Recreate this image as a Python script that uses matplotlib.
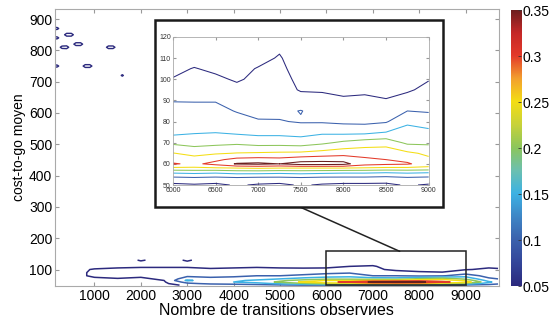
"""
Contours de densité : cost-to-go moyen vs nombre de transitions observées,
avec un zoom sur la zone 6000-9000 / 50-120.
"""

import numpy as np
import matplotlib
matplotlib.use("Agg")
import matplotlib.pyplot as plt
from matplotlib.colors import LinearSegmentedColormap, Normalize
from matplotlib.patches import Rectangle, ConnectionPatch

plt.rcParams["font.family"] = ["Liberation Sans", "DejaVu Sans"]

LEVELS = [0.05, 0.10, 0.15, 0.20, 0.25, 0.30, 0.35]
CBAR_TICKS = [0.05, 0.10, 0.15, 0.20, 0.25, 0.30, 0.35]
CBAR_LABELS = ["0.05", "0.1", "0.15", "0.2", "0.25", "0.3", "0.35"]

# --- main band (densité), one list per x column ---
main_x = [150, 500, 1000, 1500, 2000, 2500, 3000, 3500, 4000, 4500, 5000,
          5500, 6000, 6500, 7000, 7500, 8000, 8500, 9000, 9500, 9700]
main_y = [50, 55, 60, 65, 70, 80, 90, 100, 110, 120, 130]
main_density = [
    [.02, .02, .02, .02, .02, .02, .02, .02, .02, .02, .02],
    [.02, .02, .02, .02, .03, .03, .03, .03, .02, .02, .02],
    [.02, .02, .03, .035, .04, .06, .06, .055, .03, .02, .02],
    [.02, .03, .03, .04, .045, .075, .065, .06, .04, .02, .02],
    [.02, .03, .035, .04, .045, .055, .07, .06, .045, .035, .055],
    [.03, .04, .045, .05, .055, .065, .07, .06, .045, .03, .03],
    [.06, .09, .12, .16, .13, .09, .075, .06, .045, .04, .055],
    [.07, .11, .13, .12, .11, .09, .07, .055, .04, .03, .03],
    [.07, .12, .15, .14, .12, .09, .07, .06, .04, .03, .02],
    [.08, .13, .17, .16, .13, .10, .075, .06, .045, .03, .02],
    [.09, .16, .21, .19, .15, .10, .075, .06, .04, .03, .02],
    [.10, .19, .26, .22, .17, .11, .08, .058, .04, .03, .02],
    [.10, .22, .29, .25, .19, .12, .09, .055, .045, .03, .02],
    [.10, .22, .31, .245, .19, .13, .095, .058, .05, .03, .02],
    [.10, .24, .36, .255, .18, .10, .08, .06, .053, .04, .03],
    [.10, .24, .37, .26, .175, .10, .07, .04, .035, .03, .02],
    [.10, .24, .365, .28, .21, .09, .055, .04, .035, .03, .02],
    [.10, .22, .31, .28, .23, .095, .052, .04, .035, .03, .02],
    [.09, .18, .28, .24, .19, .13, .075, .048, .04, .03, .02],
    [.08, .13, .16, .13, .11, .08, .06, .055, .045, .03, .02],
    [.07, .11, .13, .12, .10, .07, .06, .055, .04, .03, .02],
]

# --- isolated points in the upper-left corner ---
top_x = list(range(0, 2100, 100))
top_y = list(range(690, 910, 10))
blob_x = [100, 200, 400, 500, 100, 200, 300, 400, 600, 700, 1300, 1400,
          100, 200, 800, 900, 1600]
blob_y = [870, 870, 850, 850, 840, 840, 810, 810, 820, 820, 810, 810,
          750, 750, 750, 750, 720]
blob_v = [.09, .07, .09, .09, .09, .07, .08, .09, .09, .09, .085, .085,
          .09, .07, .09, .09, .065]

# --- zoomed window 6000-9000 ---
inset_x = [6000, 6250, 6500, 6750, 7000, 7250, 7500, 7750, 8000, 8250,
           8500, 8750, 9000]
inset_y = [50, 53, 56, 58, 60, 62, 65, 70, 75, 80, 85, 90, 95, 100, 105,
           110, 115, 120]
inset_density = [
    [.04, .08, .16, .24, .305, .28, .252, .19, .134, .125, .113, .098, .075, .052, .04, .035, .03, .03],
    [.045, .085, .165, .24, .29, .27, .235, .18, .145, .128, .115, .097, .07, .055, .052, .035, .03, .03],
    [.04, .08, .16, .245, .315, .29, .245, .185, .148, .13, .115, .097, .075, .058, .042, .035, .03, .03],
    [.055, .085, .17, .25, .355, .315, .252, .19, .14, .12, .097, .08, .062, .045, .04, .035, .03, .03],
    [.045, .08, .17, .255, .36, .32, .255, .18, .135, .103, .09, .08, .07, .06, .052, .04, .035, .03],
    [.04, .08, .165, .25, .35, .315, .258, .18, .135, .103, .088, .078, .07, .064, .058, .053, .045, .035],
    [.055, .085, .17, .25, .37, .33, .26, .175, .13, .096, .102, .07, .046, .04, .035, .03, .03, .03],
    [.045, .08, .165, .25, .37, .335, .27, .19, .14, .095, .08, .065, .045, .04, .035, .03, .03, .03],
    [.04, .08, .16, .25, .365, .335, .28, .21, .135, .09, .075, .055, .042, .04, .035, .03, .03, .03],
    [.04, .08, .16, .245, .32, .31, .28, .225, .135, .088, .075, .058, .043, .04, .035, .03, .03, .03],
    [.04, .075, .155, .24, .31, .30, .28, .23, .15, .095, .075, .052, .04, .038, .035, .03, .03, .03],
    [.055, .085, .16, .24, .305, .29, .26, .19, .17, .14, .10, .065, .045, .04, .035, .03, .03, .03],
    [.045, .08, .155, .235, .28, .26, .24, .19, .16, .13, .095, .075, .06, .048, .04, .035, .03, .03],
]

cmap = LinearSegmentedColormap.from_list("jetish", [
    "#2c2a7e", "#34469a", "#3b62ad", "#3f86c6", "#3cb2e4", "#6cc0b0",
    "#8cc65c", "#c8d23a", "#f4de14", "#f3a02e", "#e43a2a", "#c42828", "#6a1e1e",
])
norm = Normalize(0.05, 0.35)

fig = plt.figure(figsize=(5.56, 3.24), dpi=100)
ax = fig.add_axes([0.099, 0.117, 0.798, 0.855])

# main band
Z = np.array(main_density).T
ax.contour(main_x, main_y, Z, levels=LEVELS, cmap=cmap, norm=norm, linewidths=1.1)

# isolated blobs
Zt = np.zeros((len(top_y), len(top_x)))
for bx, by, bv in zip(blob_x, blob_y, blob_v):
    Zt[top_y.index(by), top_x.index(bx)] = bv
ax.contour(top_x, top_y, Zt, levels=LEVELS, cmap=cmap, norm=norm, linewidths=1.0)

ax.set_xlim(150, 9715)
ax.set_ylim(47, 932)
ax.set_xticks(range(1000, 10000, 1000))
ax.set_yticks(range(100, 1000, 100))
ax.tick_params(direction="in", length=3, top=True, right=True,
               color="#999999", labelsize=10, pad=2)
for s in ax.spines.values():
    s.set_color("#aaaaaa")
    s.set_linewidth(0.8)
ax.set_xlabel("Nombre de transitions observиes", fontsize=11.5, labelpad=0)
ax.set_ylabel("cost-to-go moyen", fontsize=10, labelpad=2)

# zoom rectangle in the main axes
ax.add_patch(Rectangle((6000, 50), 3000, 108, fill=False, ec="#222222",
                       lw=1.1, clip_on=False, zorder=5))

# colorbar, drawn as a plain axes so the tick labels stay as written
cax = fig.add_axes([0.919, 0.117, 0.018, 0.852])
ramp = np.linspace(norm.vmin, norm.vmax, 256).reshape(-1, 1)
cax.imshow(ramp, cmap=cmap, norm=norm, aspect="auto", origin="lower",
           extent=(0, 1, norm.vmin, norm.vmax))
cax.set_xticks([])
cax.yaxis.tick_right()
cax.set_yticks(CBAR_TICKS, labels=CBAR_LABELS)
cax.tick_params(axis="y", direction="in", length=2, width=0.6,
                color="#333333", labelsize=10, pad=1)
for s in cax.spines.values():
    s.set_visible(False)

# inset frame and inset axes
frame = Rectangle((0.279, 0.361), 0.518, 0.577, transform=fig.transFigure,
                  fill=True, fc="white", ec="#1a1a1a", lw=1.8, zorder=3)
fig.add_artist(frame)

axi = fig.add_axes([0.311, 0.429, 0.460, 0.457], zorder=4)
Zi = np.array(inset_density).T
axi.contour(inset_x, inset_y, Zi, levels=LEVELS, cmap=cmap, norm=norm, linewidths=0.75)
axi.set_xlim(6000, 9000)
axi.set_ylim(50, 120)
axi.set_xticks(range(6000, 9001, 500))
axi.set_yticks(range(50, 121, 10))
axi.tick_params(direction="in", length=2, top=True, right=True,
                color="#999999", labelsize=5, labelcolor="#333333", pad=1.5)
for s in axi.spines.values():
    s.set_color("#aaaaaa")
    s.set_linewidth(0.6)

con = ConnectionPatch(xyA=(0.5396, 0.361), coordsA=fig.transFigure,
                      xyB=(7580, 158), coordsB=ax.transData,
                      color="#222222", lw=1.1, zorder=2)
fig.add_artist(con)

fig.savefig("out.png", dpi=100)
